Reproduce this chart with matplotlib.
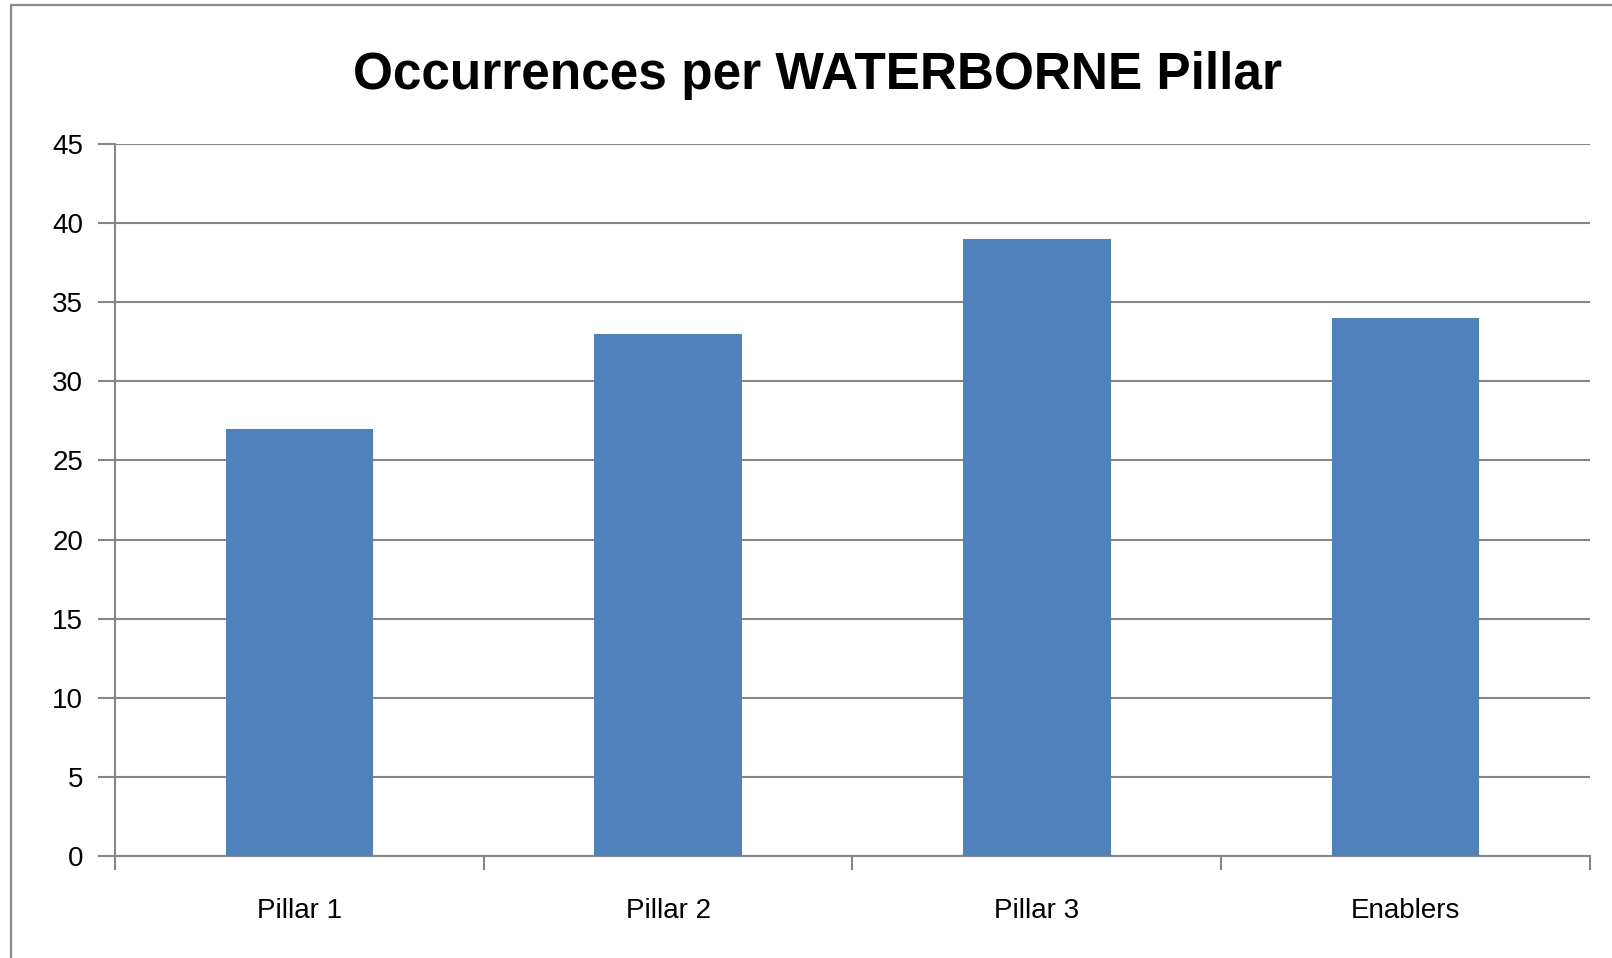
import matplotlib
matplotlib.use("Agg")
import matplotlib.pyplot as plt
from matplotlib.patches import Rectangle

categories = ["Pillar 1", "Pillar 2", "Pillar 3", "Enablers"]
occurrences = [27, 33, 39, 34]
yticks = [0, 5, 10, 15, 20, 25, 30, 35, 40, 45]

W, H = 1612, 958
fig = plt.figure(figsize=(W / 100, H / 100), dpi=100)
plt.rcParams['font.family'] = ['Liberation Sans', 'DejaVu Sans']

# outer chart border (cut off at right and bottom in the original)
fig.patches.append(Rectangle((11 / W, -0.1), 1.2, 1 - 5 / H + 0.1,
                             transform=fig.transFigure, fill=False,
                             edgecolor='#8a8a8a', linewidth=1.6))

ax = fig.add_axes([115 / W, 1 - 856 / H, (1590 - 115) / W, (856 - 144) / H])
x = range(len(categories))
ax.bar(x, occurrences, width=0.4, color='#4f81bd', zorder=3)

ax.set_xlim(-0.5, len(categories) - 0.5)
ax.set_ylim(0, 45)
ax.set_yticks(yticks)
ax.set_yticklabels([str(v) for v in yticks], fontsize=20)
ax.set_xticks(list(x))
ax.set_xticklabels(categories, fontsize=20)
ax.tick_params(axis='x', length=0, pad=30)
ax.tick_params(axis='y', length=12, width=1.5, color='#868686', pad=11)

# minor ticks at category boundaries
ax.set_xticks([i - 0.5 for i in range(len(categories) + 1)], minor=True)
ax.tick_params(axis='x', which='minor', length=10, width=1.5, color='#868686')

ax.grid(axis='y', color='#868686', linewidth=1.5, zorder=0)
for side in ['top', 'right']:
    ax.spines[side].set_visible(False)
for side in ['left', 'bottom']:
    ax.spines[side].set_color('#868686')
    ax.spines[side].set_linewidth(1.5)

fig.text(818 / W, 1 - 75 / H, "Occurrences per WATERBORNE Pillar",
         ha='center', va='center', fontsize=37, fontweight='bold')

fig.savefig("out.png", dpi=100, facecolor='white')
